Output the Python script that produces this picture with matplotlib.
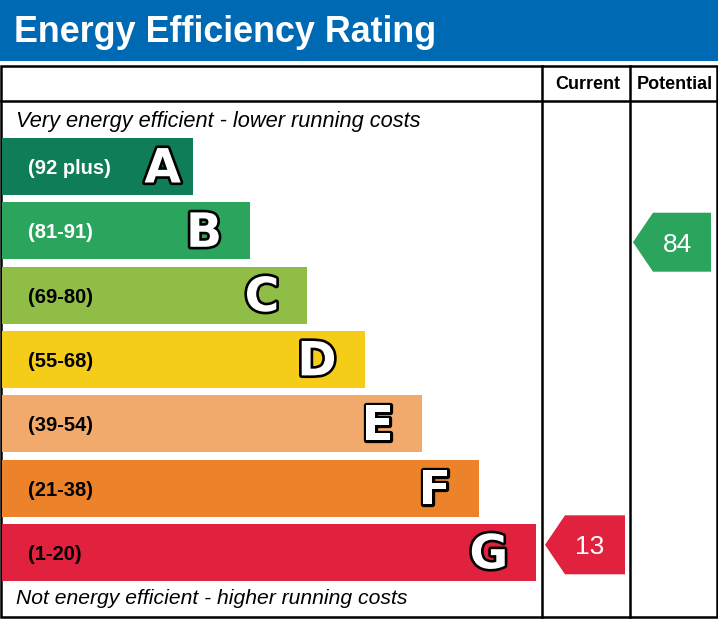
import matplotlib
matplotlib.use("Agg")
import matplotlib.pyplot as plt
from matplotlib.patches import Rectangle, Polygon
import matplotlib.patheffects as pe

# =========================
# Data
# =========================
bands = ["A", "B", "C", "D", "E", "F", "G"]
range_labels = ["(92 plus)", "(81-91)", "(69-80)", "(55-68)", "(39-54)", "(21-38)", "(1-20)"]
range_lo = [92, 81, 69, 55, 39, 21, 1]
range_hi = [100, 91, 80, 68, 54, 38, 20]
band_colors = ["#0f7d57", "#2ba55e", "#8fbd45", "#f5cc18", "#f2aa6c", "#ec8229", "#e1223f"]
label_colors = ["white", "white", "black", "black", "black", "black", "black"]

current_rating = 13
potential_rating = 84

title = "Energy Efficiency Rating"
top_note = "Very energy efficient - lower running costs"
bottom_note = "Not energy efficient - higher running costs"

# =========================
# Layout (pixels)
# =========================
W, H = 718, 619
row_top0 = 138
row_step = 64.3
row_h = 57
bar_left = 2
bar_right0 = 193
bar_step = 57.2
col_cur = (542, 630)
col_pot = (630, 716)
frame_top, frame_bot = 66, 617
header_line = 101
blue = "#0069b4"
lw = 1.8


def band_index(v):
    for i, (lo, hi) in enumerate(zip(range_lo, range_hi)):
        if lo <= v <= hi:
            return i
    return len(bands) - 1


def rating_y(v):
    # arrow sits inside its band, moved down as the rating drops
    i = band_index(v)
    frac = (range_hi[i] - v) / (range_hi[i] - range_lo[i])
    return row_top0 + i * row_step + frac * row_h


def draw_arrow(ax, v, col):
    i = band_index(v)
    yc = rating_y(v)
    tip = col[0] + 3
    notch = tip + 20
    right = col[1] - 5
    pts = [(tip, yc), (notch, yc - 29.5), (right, yc - 29.5),
           (right, yc + 29.5), (notch, yc + 29.5)]
    ax.add_patch(Polygon(pts, closed=True, facecolor=band_colors[i], edgecolor="none"))
    ax.text((tip + right) / 2 + 5, yc, str(v), color="white", fontsize=19,
            family="Liberation Sans", ha="center", va="center_baseline")


fig = plt.figure(figsize=(W / 100, H / 100), dpi=100)
ax = fig.add_axes([0, 0, 1, 1])
ax.set_xlim(0, W)
ax.set_ylim(H, 0)
ax.axis("off")

# title banner
ax.add_patch(Rectangle((0, 0), W, 61, facecolor=blue, edgecolor="none"))
ax.text(14, 42.3, title, color="white", fontsize=25.8, fontweight="bold",
        family="Liberation Sans", ha="left", va="baseline")

# frame
ax.add_patch(Rectangle((1, frame_top), W - 2.5, frame_bot - frame_top,
                       facecolor="none", edgecolor="black", linewidth=lw))
ax.plot([1, W - 1.5], [header_line, header_line], color="black", linewidth=lw)
ax.plot([col_cur[0], col_cur[0]], [frame_top, frame_bot], color="black", linewidth=lw)
ax.plot([col_pot[0], col_pot[0]], [frame_top, frame_bot], color="black", linewidth=lw)

ax.text(sum(col_cur) / 2 + 2, 89.3, "Current", fontsize=13, fontweight="bold",
        family="Liberation Sans", ha="center", va="baseline")
ax.text(sum(col_pot) / 2 + 2, 89.3, "Potential", fontsize=13, fontweight="bold",
        family="Liberation Sans", ha="center", va="baseline")

ax.text(16, 121, top_note, fontsize=15.7, style="italic",
        family="Liberation Sans", ha="left", va="center")
ax.text(16, 599, bottom_note, fontsize=15.2, style="italic",
        family="Liberation Sans", ha="left", va="center")

# bands
centers = [row_top0 + i * row_step + row_h / 2 for i in range(len(bands))]
widths = [bar_right0 + i * bar_step - bar_left for i in range(len(bands))]
ax.barh(centers, widths, height=row_h, left=bar_left, color=band_colors, edgecolor="none")

for i, b in enumerate(bands):
    yc = centers[i]
    right = bar_left + widths[i]
    ax.text(28, yc, range_labels[i], color=label_colors[i], fontsize=14.5,
            fontweight="bold", family="Liberation Sans", ha="left", va="center_baseline")
    gap = 12 if i == 0 else 28
    ax.text(right - gap, yc - 1.5, b, color="white", fontsize=34, fontweight="bold",
            family="DejaVu Sans", ha="right", va="center_baseline",
            path_effects=[pe.withStroke(linewidth=3.8, foreground="black")])

draw_arrow(ax, current_rating, col_cur)
draw_arrow(ax, potential_rating, col_pot)

fig.savefig("out.png", dpi=100)
